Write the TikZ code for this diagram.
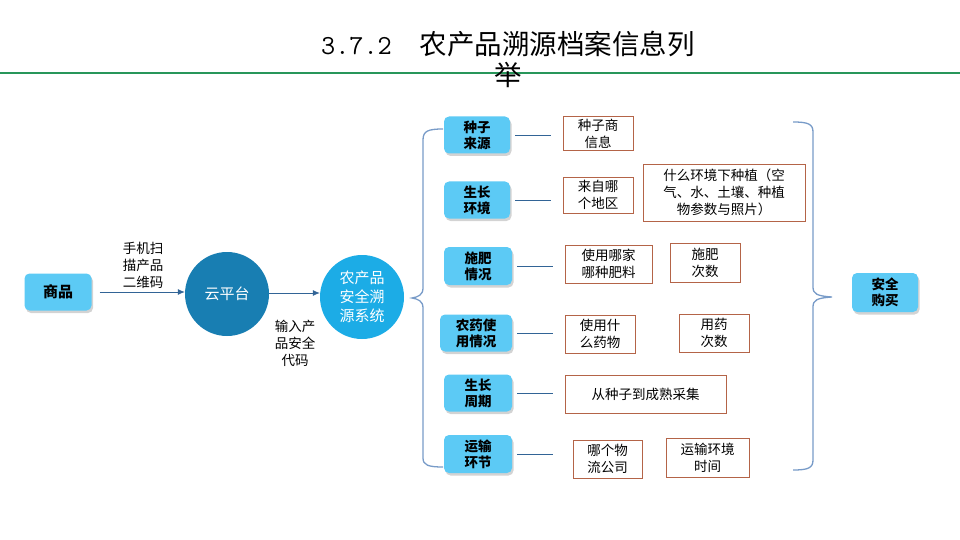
\documentclass[tikz,border=0pt]{standalone}
\usepackage{fontspec}
\setmainfont{Noto Sans CJK SC}
\usetikzlibrary{shadows,arrows.meta}
\definecolor{lblue}{RGB}{92,202,245}
\definecolor{dblue}{RGB}{24,126,178}
\definecolor{mblue}{RGB}{28,172,230}
\definecolor{boxbr}{RGB}{180,100,72}
\definecolor{conn}{RGB}{50,100,150}
\definecolor{brace}{RGB}{120,155,200}
\definecolor{titlegreen}{RGB}{40,150,90}
\tikzset{
  lbl/.style={rounded corners=5pt, fill=lblue, draw=none, align=center,
    font=\fontsize{13.5}{16}\selectfont\bfseries, inner sep=0pt,
    drop shadow={shadow xshift=1.5pt, shadow yshift=-2.5pt, opacity=0.35}},
  infobox/.style={draw=boxbr, line width=0.8pt, fill=white, align=center,
    font=\fontsize{13.5}{17}\selectfont, inner sep=0pt},
  circ/.style={circle, draw=none, align=center, text=white,
    font=\fontsize{15}{19}\selectfont, inner sep=0pt},
  link/.style={draw=conn, line width=0.8pt},
  arr/.style={draw=conn, line width=0.8pt, -{Latex[length=7pt,width=6pt]}},
  bracepath/.style={draw=brace, line width=1.3pt},
  note/.style={align=center, font=\fontsize{13.5}{17}\selectfont}
}
\begin{document}
\begin{tikzpicture}[x=1pt,y=-1pt]
\useasboundingbox (0,0) rectangle (960,540);
% title
\draw[titlegreen, line width=2.6pt] (0,73) -- (960,73);
\node[align=center, font=\fontsize{27.5}{31}\selectfont] (title) at (508,59)
  {{\fontspec{Latin Modern Mono}\bfseries 3.7.2}\hspace{28pt}农产品溯源档案信息列\\举};
% left chain
\node[lbl, minimum width=67pt, minimum height=37pt, font=\fontsize{15}{18}\selectfont\bfseries] (sp) at (58,292) {商品};
\node[circ, fill=dblue, minimum size=84pt] (yun) at (227,294) {云平台};
\node[circ, fill=mblue, minimum size=84pt] (sys) at (362,297) {农产品\\安全溯\\源系统};
\coordinate (a1) at ([xshift=8pt]sp.east);
\draw[arr] (a1) -- (a1 -| yun.west);
\coordinate (a2) at ([yshift=1pt]yun.east);
\draw[arr] (a2) -- (a2 -| sys.west);
\node[note] (n1) at (143,265) {手机扫\\描产品\\二维码};
\node[note] (n2) at (295,343) {输入产\\品安全\\代码};
% left brace
\coordinate (lb) at (412,298);
\draw[bracepath] (443,129) .. controls (428,129) and (423,131) .. (423,140) -- (423,288)
  .. controls (423,295) and (418,297) .. (lb)
  .. controls (418,299) and (423,301) .. (423,308) -- (423,458)
  .. controls (423,465) and (428,467) .. (443,467);
% category nodes
\node[lbl, minimum width=66pt, minimum height=37pt] (c1) at (477,135) {种子\\来源};
\node[lbl, minimum width=66pt, minimum height=37pt] (c2) at (477,200) {生长\\环境};
\node[lbl, minimum width=68pt, minimum height=38pt] (c3) at (478,266) {施肥\\情况};
\node[lbl, minimum width=72pt, minimum height=37pt] (c4) at (476,333) {农药使\\用情况};
\node[lbl, minimum width=68pt, minimum height=37pt] (c5) at (478,393) {生长\\周期};
\node[lbl, minimum width=68pt, minimum height=38pt] (c6) at (478,454) {运输\\环节};
% info boxes
\node[infobox, minimum width=70pt, minimum height=34pt] (b1) at (598,133.5) {种子商\\信息};
\node[infobox, minimum width=70pt, minimum height=36pt] (b2) at (598,195) {来自哪\\个地区};
\node[infobox, minimum width=162pt, minimum height=57pt] (b3) at (724,192.5) {什么环境下种植（空\\气、水、土壤、种植\\物参数与照片）};
\node[infobox, minimum width=87pt, minimum height=38pt] (b4) at (608.5,264) {使用哪家\\哪种肥料};
\node[infobox, minimum width=70pt, minimum height=39pt] (b5) at (705,262.5) {施肥\\次数};
\node[infobox, minimum width=70pt, minimum height=38pt] (b6) at (600,334) {使用什\\么药物};
\node[infobox, minimum width=70pt, minimum height=38pt] (b7) at (714,333) {用药\\次数};
\node[infobox, minimum width=161pt, minimum height=38pt] (b8) at (645.5,394) {从种子到成熟采集};
\node[infobox, minimum width=69pt, minimum height=38pt] (b9) at (607.5,459) {哪个物\\流公司};
\node[infobox, minimum width=83pt, minimum height=39pt] (b10) at (707.5,457.5) {运输环境\\时间};
% short links
\foreach \c in {c1,c2,c3,c4,c5,c6}{
  \draw[link] ([xshift=5pt]\c.east) -- ++(36pt,0);
}
% right brace
\coordinate (rb) at (832,297);
\draw[bracepath] (793,122) .. controls (808,122) and (813,124) .. (813,132) -- (813,287)
  .. controls (813,294) and (817,296) .. (rb)
  .. controls (817,298) and (813,300) .. (813,307) -- (813,460)
  .. controls (813,468) and (808,470) .. (793,470);
\node[lbl, minimum width=66pt, minimum height=39pt] (buy) at (885,292.5) {安全\\购买};
\end{tikzpicture}
\end{document}
